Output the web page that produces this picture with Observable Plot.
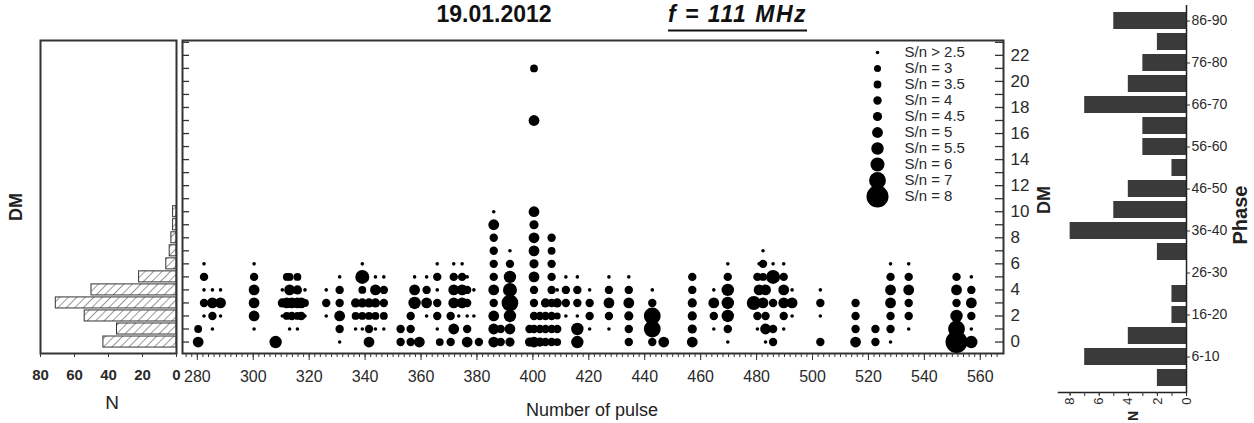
<!DOCTYPE html>
<html><head><meta charset="utf-8">
<script src="https://cdn.jsdelivr.net/npm/d3@7"></script>
<script src="https://cdn.jsdelivr.net/npm/@observablehq/plot@0.6"></script>
<style>
body{margin:0;background:#fff;font-family:"Liberation Sans",Arial,sans-serif;}
#wrap{position:relative;width:1254px;height:423px;overflow:hidden;background:#fff;}
.lbl{position:absolute;white-space:nowrap;color:#222;line-height:1;}
</style></head><body><div id="wrap"></div>
<script>
// ---------- data ----------
const dmBins   = [0, 1, 2, 3, 4, 5, 6, 7, 8, 9, 10];
const dmCounts = [43, 35, 54, 71, 50, 22, 6, 4, 3, 2, 2];

const phaseBins   = ["1-5","6-10","11-15","16-20","21-25","26-30","31-35","36-40","41-45","46-50","51-55","56-60","61-65","66-70","71-75","76-80","81-85","86-90"];
const phaseCounts = [2, 7, 4, 1, 1, 0, 2, 8, 5, 4, 1, 3, 3, 7, 4, 3, 2, 5];
const phaseTickLabels = ["6-10","16-20","26-30","36-40","46-50","56-60","66-70","76-80","86-90"];

const pulseTicks = [280, 300, 320, 340, 360, 380, 400, 420, 440, 460, 480, 500, 520, 540, 560];
const dmTicks = [0, 2, 4, 6, 8, 10, 12, 14, 16, 18, 20, 22];
const dmMinorTicks = [0, 1, 2, 3, 4, 5, 6, 7, 8, 9, 10, 11, 12, 13, 14, 15, 16, 17, 18, 19, 20, 21, 22, 23];
const nTicksLeft = [0, 20, 40, 60, 80];
const nTicksRight = [0, 2, 4, 6, 8];

const snLevels = [2.5, 3, 3.5, 4, 4.5, 5, 5.5, 6, 7, 8];
const legendLabels = ["S/n > 2.5","S/n = 3","S/n = 3.5","S/n = 4","S/n = 4.5","S/n = 5","S/n = 5.5","S/n = 6","S/n = 7","S/n = 8"];

// [number of pulse, DM, S/n]
const detections = [
[280.3,0,5],[280.3,1,3.5],
[282.4,6,2.5],[282.4,5,4],[282.4,4,2.5],[282.4,3,4],[282.4,2,2.5],
[285.4,4,2.5],[285.4,3,5],[285.4,2,4],[285.4,1,2.5],
[288.3,4,2.5],[288.3,3,5],[288.3,2,2.5],
[300.3,6,2.5],[300.3,5,4],[300.3,4,5],[300.3,3,5],[300.3,2,5],[300.3,1,2.5],
[308,0,5.5],
[310.4,4,2.5],[310.4,3,4.5],[310.4,2,2.5],
[312,5,3.5],[312,3,5],[312,2,3.5],
[313,5,3.5],[313,4,5],[313,1,2.5],
[313.8,3,5],[313.8,2,4],
[315.8,5,3.5],[315.8,4,4.5],[315.8,3,5],[315.8,2,3.5],[315.8,1,2.5],
[317.2,3,5],[317.2,2,4],
[318.5,4,2.5],[318.5,3,3.5],[318.5,2,2.5],
[326.1,4,2.5],[326.1,3,4],[326.1,2,2.5],
[330.9,5,2.5],[330.9,4,4],[330.9,3,4],[330.9,2,5],[330.9,1,4],[330.9,0,2.5],
[336.6,3,4.5],[336.6,2,3.5],[336.6,1,2.5],
[339,6,2.5],[339,5,6],[339,4,3.5],[339,3,4.5],[339,2,3.5],[339,1,2.5],
[341.4,3,4.5],[341.4,2,3.5],[341.4,1,4],[341.4,0,5],
[343.7,5,2.5],[343.7,4,5],[343.7,3,4.5],[343.7,2,3.5],[343.7,1,2.5],
[346.7,5,2.5],[346.7,4,4],[346.7,3,4],[346.7,2,3.5],[346.7,1,2.5],
[352.7,1,4],[352.7,0,4],
[356.3,2,4],[356.3,1,4],[356.3,0,4],
[357.7,5,2.5],[357.7,4,5],[357.7,3,5.5],
[359.4,0,5],
[362,5,2.5],[362,4,4],[362,3,5],[362,2,2.5],
[365.8,6,2.5],[365.8,5,4],[365.8,4,2.5],[365.8,3,4],[365.8,2,4],[365.8,1,2.5],
[366.7,0,3.5],
[370.6,2,4],[370.6,0,4],
[371.7,6,2.5],[371.7,5,4],[371.7,4,5],[371.7,3,5],[371.7,1,5],
[373.5,2,2.5],
[374.7,6,2.5],[374.7,5,4],[374.7,4,5],[374.7,3,5],
[376.5,5,2.5],[376.5,4,4],[376.5,3,4],[376.5,2,2.5],[376.5,1,4],[376.5,0,5],
[378.9,4,2.5],[378.9,2,2.5],
[380.7,0,4],
[386,10,2.5],[386,9,5],[386,8,4],[386,7,4],[386,6,4],[386,5,4],[386,4,5],[386,3,4],[386,2,5],[386,1,5],[386,0,5],
[388.5,1,4],[388.5,0,4],
[391.8,7,2.5],[391.8,6,4],[391.8,5,5.5],[391.8,4,6],[391.8,3,7],[391.8,2,5.5],[391.8,1,5],[391.8,0,4.5],
[398.8,1,4],[398.8,0,4.5],
[400.4,21,3.5],[400.4,17,5],[400.4,10,5],[400.4,9,4.5],[400.4,8,5],[400.4,7,5],[400.4,6,4.5],[400.4,5,5],[400.4,4,4],[400.4,3,4],[400.4,2,4],[400.4,1,4],[400.4,0,5],
[402.5,2,4],[402.5,1,4],[402.5,0,4.5],
[404.5,3,4.5],[404.5,2,4],[404.5,1,4],[404.5,0,4],
[406.7,8,4],[406.7,7,3.5],[406.7,6,4],[406.7,5,4],[406.7,4,4],[406.7,3,4],[406.7,2,4],[406.7,1,4],[406.7,0,4],
[408.7,4,2.5],[408.7,3,4.5],[408.7,2,3],[408.7,1,4],[408.7,0,3.5],
[411.8,5,2.5],[411.8,4,4],[411.8,3,4],[411.8,2,2.5],
[415.9,5,2.5],[415.9,4,4],[415.9,3,4],[415.9,2,2.5],[415.9,1,5.5],[415.9,0,5.5],
[420.3,4,2.5],[420.3,3,4],[420.3,2,4],[420.3,1,2.5],
[427.2,5,2.5],[427.2,4,4],[427.2,3,5],[427.2,2,4],[427.2,1,2.5],
[434.3,5,2.5],[434.3,4,4],[434.3,3,5],[434.3,2,4.5],[434.3,1,4],[434.3,0,4],
[442.7,4,2.5],[442.7,3,4],[442.7,2,7],[442.7,1,7],[442.7,0,4],
[446.8,0,5],
[457,5,4],[457,4,4],[457,3,4.5],[457,2,4.5],[457,1,4.5],[457,0,5],
[464.7,4,2.5],[464.7,3,5],[464.7,2,4],[464.7,1,2.5],
[469.7,6,2.5],[469.7,5,4],[469.7,4,5.5],[469.7,3,5.5],[469.7,2,5.5],[469.7,1,4],[469.7,0,2.5],
[479,3,6],
[480.3,5,4],[480.3,2,4],[480.3,1,2.5],
[480.9,6,2.5],[480.9,4,5],
[482.3,7,2.5],[482.3,6,4],[482.3,5,3.5],[482.3,3,5],
[483.2,4,5],[483.2,2,4],[483.2,1,5],[483.2,0,2.5],
[485.9,6,2.5],[485.9,5,6],[485.9,3,4],[485.9,1,4],[485.9,0,4],
[489.7,6,2.5],[489.7,5,4],[489.7,4,5],[489.7,3,5],[489.7,2,4],[489.7,1,2.5],
[492.7,4,2.5],[492.7,3,5],[492.7,2,2.5],
[502.8,4,2.5],[502.8,3,4],[502.8,2,2.5],[502.8,0,4],
[515.4,3,4],[515.4,2,4],[515.4,1,4],[515.4,0,5],
[522.5,1,4],[522.5,0,4],
[527.9,6,2.5],[527.9,5,4],[527.9,4,5],[527.9,3,5],[527.9,2,4],[527.9,1,4],[527.9,0,2.5],
[534.4,6,2.5],[534.4,5,4],[534.4,4,5],[534.4,3,4],[534.4,2,4],[534.4,1,2.5],
[551.5,5,4],[551.5,4,5],[551.5,3,4],[551.5,2,5.5],[551.5,1,7],[551.5,0,8],
[556.8,5,2.5],[556.8,4,4],[556.8,3,5],[556.8,2,4],[556.8,1,2.5],[556.8,0,5.5]
];

// ---------- layout helpers ----------
const FONT = '"Liberation Sans", Arial, sans-serif';
const INK = "#2a2a2a";
const wrap = document.getElementById("wrap");
function place(el, left, top) {
  el.style.position = "absolute"; el.style.left = left + "px"; el.style.top = top + "px";
  wrap.appendChild(el); return el;
}
function label(text, cx, cy, css, rot) {
  const d = document.createElement("div");
  d.className = "lbl"; d.textContent = text;
  d.style.left = cx + "px"; d.style.top = cy + "px";
  d.style.transform = "translate(-50%,-50%)" + (rot ? ` rotate(${rot}deg)` : "");
  Object.assign(d.style, css || {});
  wrap.appendChild(d); return d;
}
const baseStyle = {background: "transparent", overflow: "visible", fontFamily: FONT, color: INK};
const dmDomain = [-0.88, 23.14];
const rScale = {type: "linear", domain: snLevels, range: [1.8, 3.5, 3.9, 4.2, 4.6, 5.4, 6.2, 7.0, 8.4, 11]};

// ---------- left histogram (N vs DM) ----------
const dmHist = dmBins.map((dm, i) => ({dm, n: dmCounts[i]}));
const left = Plot.plot({
  width: 180, height: 423,
  marginLeft: 40, marginRight: 4, marginTop: 40, marginBottom: 70,
  style: baseStyle,
  x: {domain: [0, 80], reverse: true},
  y: {domain: dmDomain, axis: null},
  marks: [
    Plot.rectX(dmHist, {x: "n", y1: d => d.dm - 0.5, y2: d => d.dm + 0.5, insetTop: 1, insetBottom: 1,
      fill: "url(#hatchL)", stroke: "#333", strokeWidth: 1}),
    Plot.frame({stroke: "#333", strokeWidth: 2}),
    Plot.axisX({ticks: nTicksLeft, tickSize: 4, tickPadding: 12, fontSize: 15, fontWeight: "bold",
      stroke: "#333", fill: INK, label: null})
  ]
});
const defs = document.createElementNS("http://www.w3.org/2000/svg", "defs");
defs.innerHTML = '<pattern id="hatchL" width="6" height="6" patternUnits="userSpaceOnUse" patternTransform="rotate(45)"><rect width="6" height="6" fill="#fff"/><line x1="0" y1="0" x2="0" y2="6" stroke="#444" stroke-width="1.1"/></pattern>';
left.insertBefore(defs, left.firstChild);
place(left, 0, 0);

// ---------- main scatter ----------
const mainW = 872, mainML = 4, mainMR = 47;
const frameW = mainW - mainML - mainMR;
const main = Plot.plot({
  width: mainW, height: 423,
  marginLeft: mainML, marginRight: mainMR, marginTop: 40, marginBottom: 70,
  style: baseStyle,
  x: {domain: [274.7, 568.3]},
  y: {domain: dmDomain},
  r: rScale,
  marks: [
    // inward ticks on the left and right edges
    Plot.tickY(dmMinorTicks, {y: d => d, insetRight: frameW - 7, stroke: "#333", strokeWidth: 1.3}),
    Plot.tickY(dmMinorTicks, {y: d => d, insetLeft: frameW - 8, stroke: "#333", strokeWidth: 1.3}),
    Plot.frame({stroke: "#333", strokeWidth: 2}),
    Plot.dot(detections, {x: d => d[0], y: d => d[1], r: d => d[2], fill: "#000"}),
    Plot.axisX({ticks: d3.range(276, 568, 2), tickSize: 4, stroke: "#333", fill: null, label: null}),
    Plot.axisX({ticks: pulseTicks, tickSize: 7, tickPadding: 10, fontSize: 16, stroke: "#333", fill: INK, label: null}),
    Plot.axisY({anchor: "right", ticks: dmTicks, tickSize: 0, tickPadding: 7, fontSize: 17, fill: INK, label: null})
  ]
});
place(main, 178, 0);

// ---------- legend (S/n sizes) ----------
const legendData = snLevels.map((sn, i) => ({sn, lab: legendLabels[i]}));
const legend = Plot.plot({
  width: 120, height: 180,
  marginLeft: 0, marginRight: 0, marginTop: 17, marginBottom: 19,
  style: baseStyle,
  x: {axis: null},
  y: {type: "point", domain: legendLabels, padding: 0, axis: null},
  r: rScale,
  marks: [
    Plot.dot(legendData, {y: "lab", r: "sn", frameAnchor: "left", dx: 17, fill: "#000"}),
    Plot.text(legendData, {y: "lab", text: "lab", frameAnchor: "left", dx: 44, textAnchor: "start", fontSize: 15, fill: INK})
  ]
});
place(legend, 860, 35);

// ---------- right histogram (N vs Phase) ----------
const phaseHist = phaseBins.map((phase, i) => ({phase, n: phaseCounts[i]}));
const right = Plot.plot({
  width: 204, height: 423,
  marginLeft: 8, marginRight: 68, marginTop: 5, marginBottom: 31,
  style: baseStyle,
  x: {domain: [0, 8.8], reverse: true},
  y: {domain: phaseBins.slice().reverse(), paddingInner: 0.2, paddingOuter: 0.1},
  marks: [
    Plot.barX(phaseHist, {x: "n", y: "phase", fill: "#3a3a3a"}),
    Plot.ruleX([0], {stroke: "#222", strokeWidth: 1.5}),
    Plot.frame({anchor: "bottom", stroke: "#222", strokeWidth: 1.5}),
    Plot.axisY({anchor: "right", ticks: phaseTickLabels, tickSize: 3, tickPadding: 2, fontSize: 14, stroke: "#333", fill: INK, label: null}),
    Plot.axisX({ticks: d3.range(0, 9, 1), tickSize: 4, stroke: "#333", fill: null, label: null}),
    Plot.axisX({ticks: nTicksRight, tickSize: 3, tickPadding: 2, tickRotate: -90, fontSize: 13, stroke: "#333", fill: INK, label: null})
  ]
});
place(right, 1050, 0);

// ---------- titles and axis labels ----------
label("19.01.2012", 494, 14, {fontSize: "23px", fontWeight: "bold", color: "#111"});
const f = label("f = 111 MHz", 0, 14, {fontSize: "23px", fontWeight: "bold", fontStyle: "italic", color: "#111",
  letterSpacing: "1.5px", textDecoration: "underline", textDecorationThickness: "2px", textUnderlineOffset: "8px"});
f.style.left = "668px"; f.style.transform = "translate(0,-50%)";
label("DM", 16, 207, {fontSize: "18px", fontWeight: "bold"}, -90);
label("N", 112, 402, {fontSize: "19px"});
label("Number of pulse", 592, 410, {fontSize: "18px"});
label("DM", 1044, 200, {fontSize: "18px", fontWeight: "bold"}, -90);
label("Phase", 1240, 215, {fontSize: "20px", fontWeight: "bold"}, -90);
label("N", 1133, 416, {fontSize: "14px", fontWeight: "bold"}, -90);
</script>
</body></html>
